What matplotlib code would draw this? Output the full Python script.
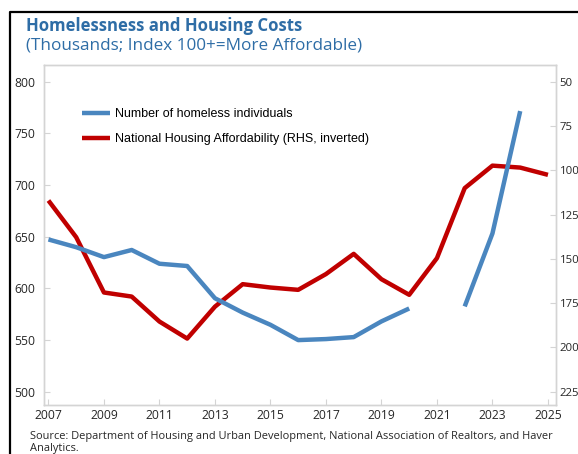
import numpy as np
import matplotlib
matplotlib.use('Agg')
import matplotlib.pyplot as plt
from matplotlib.lines import Line2D

# data
years = np.arange(2007, 2026)
homeless = [647.3, 639.8, 630.2, 637.1, 623.8, 621.6, 590.4, 576.5, 564.7, 549.9,
            550.9, 552.8, 568.0, 580.5, np.nan, 582.5, 653.1, 771.5, np.nan]
affordability = [117.1, 137.8, 169.0, 171.3, 185.4, 195.0, 177.0, 164.3, 166.2, 167.5,
                 158.6, 147.2, 161.5, 170.3, 149.6, 110.1, 97.4, 98.5, 102.6]
left_ticks = [500, 550, 600, 650, 700, 750, 800]
right_ticks = [50, 75, 100, 125, 150, 175, 200, 225]
x_ticks = list(range(2007, 2026, 2))

blue = '#4A86BF'
red = '#C00000'
title_blue = '#2E6DA6'
grey = '#D4D4D4'
txt = '#262626'

fig = plt.figure(figsize=(5.78, 4.54), dpi=100)
ax = fig.add_axes([44 / 578, 49 / 454, 512 / 578, 340 / 454])
ax2 = ax.twinx()

ax.plot(years, homeless, color=blue, lw=3.2, solid_capstyle='butt', zorder=3,
        label='Number of homeless individuals')
ax2.plot(years, affordability, color=red, lw=3.2, solid_capstyle='butt',
         label='National Housing Affordability (RHS, inverted)')

ax.set_xlim(2006.84, 2025.29)
ax.set_ylim(487.1, 816.1)
ax2.set_ylim(232.5, 40.6)

ax.set_xticks(x_ticks)
ax.set_yticks(left_ticks)
ax2.set_yticks(right_ticks)

for a in (ax, ax2):
    for s in a.spines.values():
        s.set_color(grey)
        s.set_linewidth(1.0)
    a.tick_params(direction='in', length=4, width=0.8, color=grey,
                  labelsize=8.7, labelcolor=txt, pad=6)
    for lab in a.get_xticklabels() + a.get_yticklabels():
        lab.set_fontfamily('Open Sans')
ax.tick_params(axis='x', pad=3)
ax2.tick_params(axis='y', labelsize=8.2, pad=2.5)

# blue series drawn above the red one
ax.set_zorder(ax2.get_zorder() + 1)
ax.patch.set_visible(False)

h1, l1 = ax.get_legend_handles_labels()
h2, l2 = ax2.get_legend_handles_labels()
leg = fig.legend(h1 + h2, l1 + l2, loc='upper left', bbox_to_anchor=(71 / 578, 1 - 97 / 454),
                 frameon=False, handlelength=2.2, handletextpad=0.45, labelspacing=1.05,
                 prop={'family': 'Liberation Sans', 'size': 9.0})

fig.text(26 / 578, 1 - 26 / 454, 'Homelessness and Housing Costs', color=title_blue,
         fontsize=12.1, fontweight='bold', family='Open Sans', va='center', ha='left')
fig.text(26 / 578, 1 - 45 / 454, '(Thousands; Index 100+=More Affordable)', color=title_blue,
         fontsize=12.3, family='Open Sans', va='center', ha='left')
fig.text(30 / 578, 1 - 437 / 454,
         'Source: Department of Housing and Urban Development, National Association of Realtors, and Haver',
         color=txt, fontsize=7.95, family='Open Sans', va='center', ha='left')
fig.text(30 / 578, 1 - 449 / 454, 'Analytics.', color=txt, fontsize=7.95,
         family='Open Sans', va='center', ha='left')

# outer frame (left and top edges)
fig.add_artist(Line2D([10 / 578, 10 / 578, 1.0], [0.0, 1 - 12 / 454, 1 - 12 / 454],
                      transform=fig.transFigure, color='black', lw=1.6))

fig.savefig('out.png', dpi=100)
